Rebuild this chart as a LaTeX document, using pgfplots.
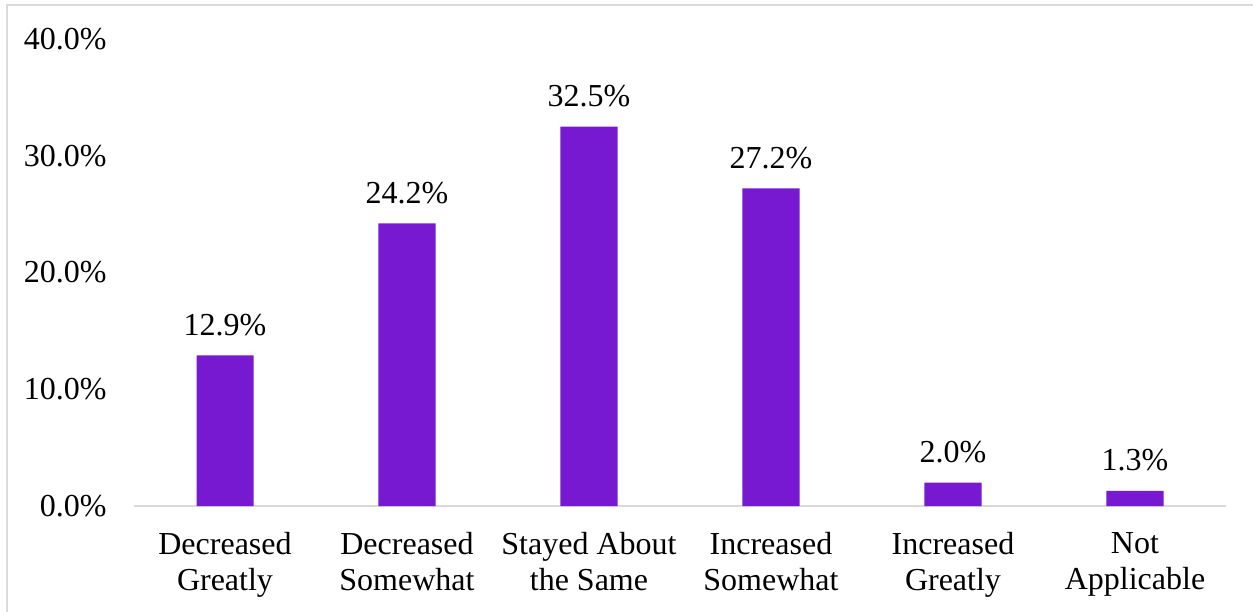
\documentclass[border=0pt]{standalone}
\usepackage{fontspec}
\setmainfont{Liberation Serif}
\usepackage{pgfplots}
\pgfplotsset{compat=1.18}
\definecolor{barpurple}{HTML}{7719D1}
\definecolor{axgray}{HTML}{D9D9D9}
\begin{document}
\fontsize{16}{18}\selectfont
\begin{tikzpicture}
\useasboundingbox (0pt,0pt) rectangle (626.5pt,305.5pt);
\draw[axgray, line width=1pt] (3.5pt,-10pt) rectangle (640pt,303pt);
\begin{axis}[
  at={(67pt,52.5pt)}, anchor=south west,
  scale only axis, width=546pt, height=233.5pt,
  xmin=-0.5, xmax=5.5, ymin=0, ymax=40,
  axis x line*=bottom,
  axis y line*=left,
  x axis line style={draw=axgray, line width=1pt, -},
  y axis line style={draw=none},
  ytick={0,10,20,30,40},
  yticklabels={0.0\%,10.0\%,20.0\%,30.0\%,40.0\%},
  yticklabel style={font=\fontsize{16}{18}\selectfont, inner sep=0pt, xshift=-13.5pt},
  xtick={0,1,2,3,4,5},
  xticklabels={{Decreased\\Greatly},{Decreased\\Somewhat},{Stayed About\\the Same},{Increased\\Somewhat},{Increased\\Greatly},{Not\\Applicable}},
  xticklabel style={align=center, font=\fontsize{16}{18}\selectfont, inner sep=0pt, yshift=-13pt},
  major tick length=0pt,
  clip=false,
  /pgf/number format/assume math mode=true,
]
\addplot[ybar, bar width=28.5pt, fill=barpurple, draw=none,
  nodes near coords={\pgfmathprintnumber[fixed,fixed zerofill,precision=1]{\pgfplotspointmeta}\%},
  nodes near coords style={font=\fontsize{16}{18}\selectfont, anchor=south, inner sep=0pt, yshift=9.5pt, text=black},
] coordinates {(0,12.9) (1,24.2) (2,32.5) (3,27.2) (4,2.0) (5,1.3)};
\end{axis}
\end{tikzpicture}
\end{document}
